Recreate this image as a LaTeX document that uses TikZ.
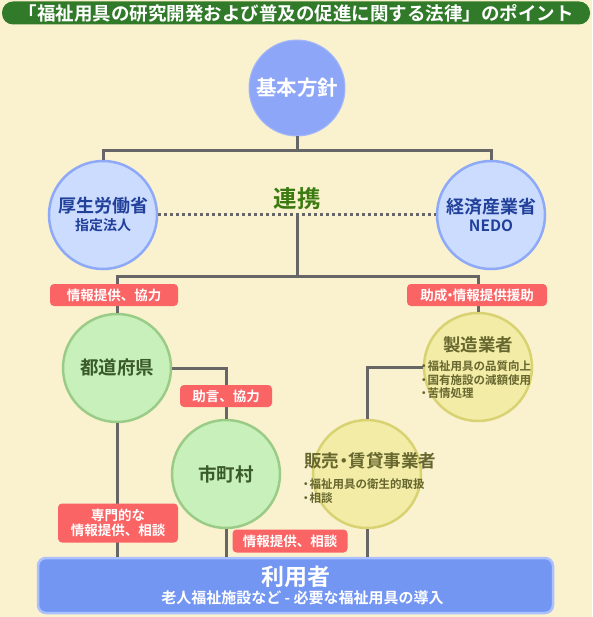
\documentclass[tikz,border=0pt]{standalone}
\usepackage{fontspec}
\setmainfont{Noto Sans CJK JP}[BoldFont={* Bold}]
\usepackage{xcolor}
\usepackage{tikz}
\usetikzlibrary{positioning, calc}
\definecolor{fukubg}{HTML}{FAF2CE}
\definecolor{fukutitle}{HTML}{317A2A}
\definecolor{fukublue}{HTML}{8EA6F7}
\definecolor{fukulightblue}{HTML}{CCDCFF}
\definecolor{fukublueline}{HTML}{8DA9F7}
\definecolor{fukunavy}{HTML}{21409A}
\definecolor{fukugreen}{HTML}{C7F0BA}
\definecolor{fukugreenline}{HTML}{9ACC88}
\definecolor{fukugreentext}{HTML}{3A5A2A}
\definecolor{fukuyellow}{HTML}{F2ECA6}
\definecolor{fukuyellowline}{HTML}{D8D272}
\definecolor{fukuolive}{HTML}{66662E}
\definecolor{fukured}{HTML}{FA6464}
\definecolor{fukuuser}{HTML}{7396F2}
\definecolor{fukuuserline}{HTML}{ABC0FF}
\definecolor{fukugray}{HTML}{666666}
\definecolor{fukulink}{HTML}{3A7A10}
\newcommand{\itemdot}{\hspace*{-3pt}・\hspace*{-2pt}}

\begin{document}
\begin{tikzpicture}[
    x=1pt, y=-1pt,
    bluecircle/.style={circle, draw=fukublueline, line width=2.5pt, fill=fukulightblue, minimum size=108pt, inner sep=0pt, align=center, text=fukunavy, font=\bfseries\fontsize{18}{21}\selectfont},
    greencircle/.style={circle, draw=fukugreenline, line width=2.5pt, fill=fukugreen, minimum size=108pt, inner sep=0pt, text=fukugreentext, font=\bfseries\fontsize{18.5}{20}\selectfont},
    yellowcircle/.style={circle, draw=fukuyellowline, line width=2.5pt, fill=fukuyellow, minimum size=108pt, inner sep=0pt},
    circletitle/.style={text=fukuolive, font=\bfseries\fontsize{17.5}{19}\selectfont, inner sep=0pt},
    bulletlist/.style={text=fukuolive, font=\bfseries\fontsize{11.5}{13.5}\selectfont, align=left, inner sep=0pt},
    redtag/.style={fill=fukured, rounded corners=4pt, text=white, font=\bfseries\fontsize{13.5}{16}\selectfont, align=center, inner sep=0pt, minimum height=22pt},
    link/.style={draw=fukugray, line width=3pt},
    dotlink/.style={draw=fukugray, line width=3pt, dash pattern=on 3pt off 3pt}
]
    % Background and title bar
    \fill[fukubg] (0,0) rectangle (592,617);
    \useasboundingbox (0,0) rectangle (592,617);
    \node[fill=fukutitle, rounded corners=11pt, minimum width=588pt, minimum height=23pt, inner sep=0pt, text=white, font=\bfseries\fontsize{18.5}{20}\selectfont] (title) at (296,13) {「福祉用具の研究開発および普及の促進に関する法律」のポイント};

    % Top circle
    \node[circle, draw=fukublue!80!white, line width=1pt, fill=fukublue, minimum size=96pt, inner sep=0pt, text=white, font=\bfseries\fontsize{20.5}{22}\selectfont] (policy) at (297,88) {基本方針};

    % Ministries
    \node[bluecircle] (mhlw) at (103,215) {厚生労働省\\[-3pt]{\fontsize{14}{16}\selectfont 指定法人}};
    \node[bluecircle] (meti) at (491,215) {経済産業省\\[-3pt]{\fontsize{15.5}{17}\selectfont NEDO}};
    \node[text=fukulink, font=\bfseries\fontsize{23.5}{26}\selectfont, inner sep=0pt] (renkei) at (297,199) {連携};

    % Local government and businesses
    \node[greencircle] (pref) at (117,368) {都道府県};
    \node[greencircle] (city) at (226,474) {市町村};
    \node[yellowcircle] (maker) at (478,367) {};
    \node[circletitle] (makertitle) at (478,345) {製造業者};
    \node[bulletlist, anchor=north west] (makerlist) at (421,361) {\itemdot 福祉用具の品質向上\\\itemdot 国有施設の減額使用\\\itemdot 苦情処理};
    \node[yellowcircle] (dealer) at (367,474) {};
    \node[circletitle] (dealertitle) at (370,461) {販売\hspace*{-4pt}・\hspace*{-4pt}賃貸事業者};
    \node[bulletlist, anchor=north west] (dealerlist) at (303,479) {\itemdot 福祉用具の衛生的取扱\\\itemdot 相談};

    % Users
    \node[fill=fukuuser, draw=fukuuserline, line width=2.5pt, rounded corners=8pt, minimum width=515pt, minimum height=55pt, inner sep=0pt, align=center, text=white, font=\bfseries\fontsize{15}{17}\selectfont] (user) at (295.5,585.5) {{\fontsize{23}{24}\selectfont 利用者}\\[1pt]\hspace*{14pt}老人福祉施設など - 必要な福祉用具の導入};

    % Connectors
    \coordinate (topbar) at (297,151);
    \coordinate (midtop) at (297,216);
    \coordinate (midbar) at (297,276);
    \draw[link] (policy) -- (topbar);
    \draw[link] (mhlw) |- (topbar) -| (meti);
    \draw[dotlink] (mhlw.east) -- (meti.west);
    \draw[link] (midtop) -- (midbar);
    \draw[link] (pref) |- (midbar) -| (maker);
    \draw[link] (pref) -| (city);
    \draw[link] (maker) -| (dealer);
    \draw[link] (pref) -- (pref |- user.north);
    \draw[link] (city) -- (city |- user.north);
    \draw[link] (dealer) -- (dealer |- user.north);

    % Tags
    \node[redtag, minimum width=128pt] (tagprefinfo) at (114,295) {情報提供、協力};
    \node[redtag, minimum width=140pt] (tagsubsidy) at (477,295) {助成\hspace*{-4pt}・\hspace*{-4pt}情報提供援助};
    \node[redtag, minimum width=92pt] (tagadvice) at (226,396) {助言、協力};
    \node[redtag, minimum width=120pt, minimum height=39pt] (tagexpert) at (118,523) {専門的な\\[-1pt]情報提供、相談};
    \node[redtag, minimum width=115pt, minimum height=23pt] (tagconsult) at (290,541) {情報提供、相談};
\end{tikzpicture}
\end{document}
